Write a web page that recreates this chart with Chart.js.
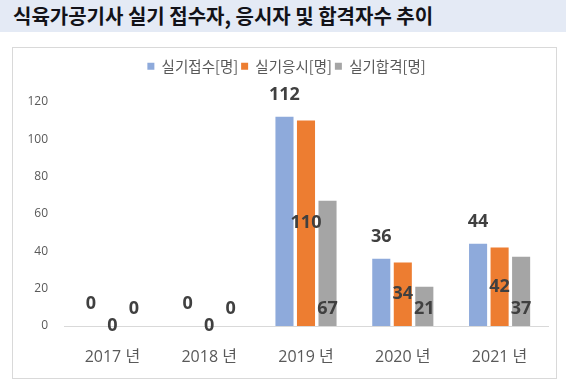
<!DOCTYPE html>
<html>
<head>
<meta charset="utf-8">
<script src="https://cdn.jsdelivr.net/npm/chart.js@4.4.0/dist/chart.umd.min.js"></script>
<style>
  html, body { margin: 0; padding: 0; background: #ffffff; }
  body { width: 566px; height: 391px; position: relative; overflow: hidden; }
  #titlebar {
    position: absolute; left: 0; top: 0; width: 566px; height: 32px;
    background: #e4eaf5;
  }
  #title {
    position: absolute; left: 13px; top: 0; height: 32px; line-height: 32px;
    font-family: 'Noto Sans CJK KR', sans-serif; font-weight: bold; font-size: 20px;
    color: #121218; white-space: nowrap;
  }
  #box {
    position: absolute; left: 12px; top: 47px; width: 543px; height: 330px;
    border: 1px solid #d9d9d9;
  }
  #c { display: block; }
</style>
</head>
<body>
<div id="titlebar"><div id="title">식육가공기사 실기 접수자, 응시자 및 합격자수 추이</div></div>
<div id="box"><canvas id="c" width="543" height="330"></canvas></div>
<script>
const categories = ['2017 년', '2018 년', '2019 년', '2020 년', '2021 년'];
const seriesNames = ['실기접수[명]', '실기응시[명]', '실기합격[명]'];
const applied = [0, 0, 112, 36, 44];
const examined = [0, 0, 110, 34, 42];
const passed = [0, 0, 67, 21, 37];
const yTicks = [0, 20, 40, 60, 80, 100, 120];

const labelPlugin = {
  id: 'barLabels',
  afterDatasetsDraw(chart) {
    const ctx = chart.ctx;
    ctx.save();
    ctx.font = "bold 18px 'Open Sans', 'Noto Sans', sans-serif";
    ctx.fillStyle = '#404040';
    ctx.textAlign = 'center';
    ctx.textBaseline = 'middle';
    chart.data.datasets.forEach((ds, di) => {
      const meta = chart.getDatasetMeta(di);
      meta.data.forEach((bar, i) => {
        const v = ds.data[i];
        let y;
        if (di === 0) y = bar.y - 22;
        else if (di === 1) y = (bar.y + bar.base) / 2;
        else y = bar.base - 17;
        ctx.fillText(String(v), bar.x, y);
      });
    });
    ctx.restore();
  }
};

new Chart(document.getElementById('c'), {
  type: 'bar',
  data: {
    labels: categories,
    datasets: [
      { label: seriesNames[0], data: applied, backgroundColor: '#8eaadb', borderWidth: 0 },
      { label: seriesNames[1], data: examined, backgroundColor: '#ed7d31', borderWidth: 0 },
      { label: seriesNames[2], data: passed, backgroundColor: '#a5a5a5', borderWidth: 0 }
    ]
  },
  options: {
    responsive: false,
    animation: false,
    devicePixelRatio: 1,
    categoryPercentage: 0.667,
    barPercentage: 0.84,
    layout: { padding: { left: 12, right: 8, top: 8, bottom: 0 } },
    plugins: {
      tooltip: { enabled: false },
      legend: {
        position: 'top',
        labels: {
          boxWidth: 7, boxHeight: 7, padding: 3,
          color: '#595959',
          font: { family: "'Noto Sans CJK KR', sans-serif", size: 14.5 }
        }
      }
    },
    scales: {
      x: {
        grid: { display: true, drawOnChartArea: false, drawTicks: false },
        border: { display: true, color: '#d9d9d9', width: 1 },
        ticks: {
          color: '#595959', padding: 22,
          font: { family: "'Open Sans', 'Noto Sans CJK KR', sans-serif", size: 16 }
        },
        afterFit(scale) { scale.height = 52; }
      },
      y: {
        min: 0, max: 129.8,
        grid: { display: false, drawTicks: false },
        border: { display: false },
        ticks: {
          color: '#595959', padding: 16,
          font: { family: "'Open Sans', sans-serif", size: 12 }
        },
        afterBuildTicks(scale) { scale.ticks = yTicks.map(v => ({ value: v })); },
        afterFit(scale) { scale.width = 39; }
      }
    }
  },
  plugins: [labelPlugin]
});
</script>
</body>
</html>
